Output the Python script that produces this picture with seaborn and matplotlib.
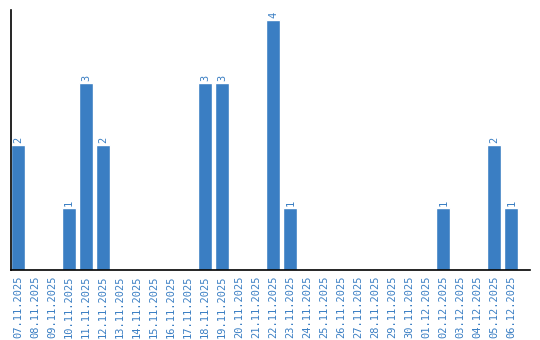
import matplotlib
matplotlib.use("Agg")
import matplotlib.pyplot as plt
import seaborn as sns
import pandas as pd

dates = ["07.11.2025", "08.11.2025", "09.11.2025", "10.11.2025", "11.11.2025",
         "12.11.2025", "13.11.2025", "14.11.2025", "15.11.2025", "16.11.2025",
         "17.11.2025", "18.11.2025", "19.11.2025", "20.11.2025", "21.11.2025",
         "22.11.2025", "23.11.2025", "24.11.2025", "25.11.2025", "26.11.2025",
         "27.11.2025", "28.11.2025", "29.11.2025", "30.11.2025", "01.12.2025",
         "02.12.2025", "03.12.2025", "04.12.2025", "05.12.2025", "06.12.2025"]
counts = [2, 0, 0, 1, 3, 2, 0, 0, 0, 0, 0, 3, 3, 0, 0,
          4, 1, 0, 0, 0, 0, 0, 0, 0, 0, 1, 0, 0, 2, 1]

sns.set_style("white")
plt.rcParams['font.family'] = ['DejaVu Sans Mono', 'DejaVu Sans']
blue = "#3a7ec3"

df = pd.DataFrame({"date": dates, "count": counts})
fig = plt.figure(figsize=(5.4, 3.4), dpi=100)
ax = fig.add_axes([11/540, 1-270/340, (530-11)/540, 260/340])
sns.barplot(data=df, x="date", y="count", color=blue, saturation=1, width=0.84, ax=ax)

for i, v in enumerate(counts):
    if v > 0:
        ax.text(i, v + 0.03, str(v), rotation=90, ha="center", va="bottom",
                color=blue, fontsize=7.5)

ax.set_xlim(-0.42, 30.1)
ax.set_ylim(0, 4.16)
ax.set_xlabel("")
ax.set_ylabel("")
ax.set_yticks([])
ax.tick_params(axis="x", length=0, pad=4, labelsize=7.5, labelcolor=blue, rotation=90)
for s in ["top", "right"]:
    ax.spines[s].set_visible(False)
for s in ["left", "bottom"]:
    ax.spines[s].set_color("black")
    ax.spines[s].set_linewidth(1.2)

fig.savefig("out.png", dpi=100)
